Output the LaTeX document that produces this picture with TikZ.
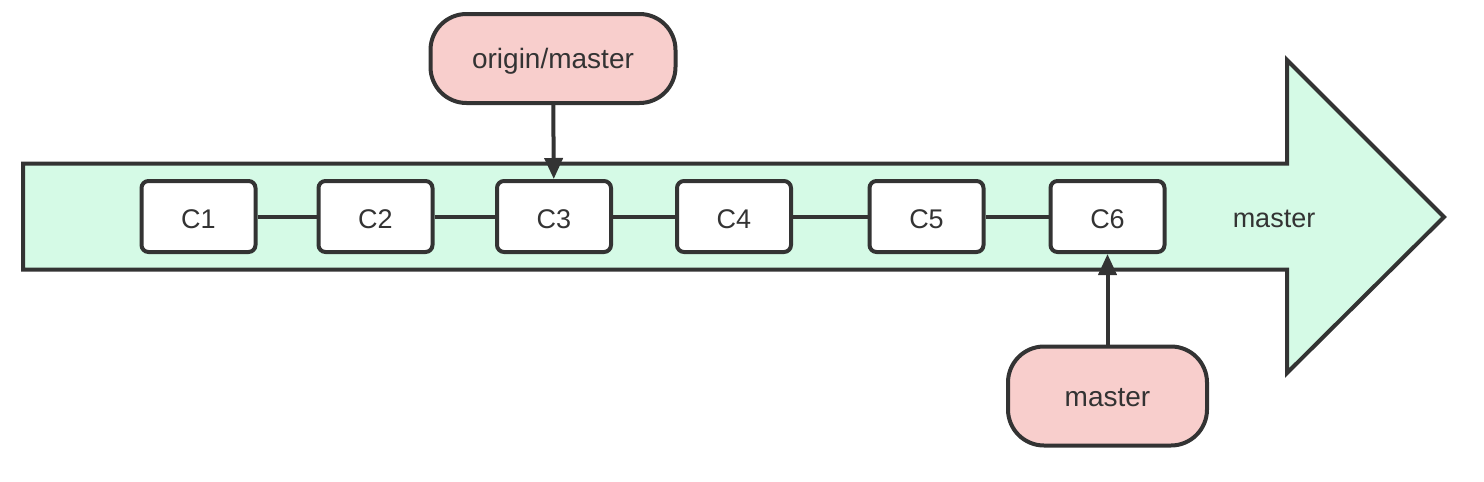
\documentclass[tikz,border=0pt]{standalone}
\usepackage{fontspec}
\setmainfont{Liberation Sans}
\usetikzlibrary{arrows.meta}
\definecolor{strokec}{HTML}{333333}
\definecolor{greenf}{HTML}{D5FAE6}
\definecolor{pinkf}{HTML}{F8CECC}
\tikzset{
  txt/.style={text=strokec, font=\fontsize{27}{32}\selectfont, text height=19.3pt, text depth=0pt},
  commit/.style={draw=strokec, line width=4pt, fill=white, rounded corners=7pt,
    minimum width=114pt, minimum height=71pt, inner sep=0pt, txt, text height=23.3pt},
  refbox/.style={draw=strokec, line width=4pt, fill=pinkf, rounded corners=36pt,
    inner sep=0pt, txt, font=\fontsize{28}{33}\selectfont, text height=20pt},
  link/.style={draw=strokec, line width=4pt},
  pointer/.style={draw=strokec, line width=4pt, -{Triangle[length=21pt,width=18pt]}},
}
\begin{document}
\begin{tikzpicture}[x=1pt,y=-1pt]
\useasboundingbox (0,0) rectangle (1484,482);
\draw[draw=strokec, fill=greenf, line width=4pt, line join=miter]
  (23,163.5) -- (1287,163.5) -- (1287,60) -- (1444,217) -- (1287,373) -- (1287,269.5) -- (23,269.5) -- cycle;
\node[commit] (c1) at (198.5,216.5) {C1};
\node[commit] (c2) at (375.5,216.5) {C2};
\node[commit] (c3) at (554,216.5) {C3};
\node[commit] (c4) at (734,216.5) {C4};
\node[commit] (c5) at (926.5,216.5) {C5};
\node[commit] (c6) at (1107.5,216.5) {C6};
\draw[link] (c1) -- (c2);
\draw[link] (c2) -- (c3);
\draw[link] (c3) -- (c4);
\draw[link] (c4) -- (c5);
\draw[link] (c5) -- (c6);
\node[txt] (lbl) at (1274,217.5) {master};
\node[refbox, minimum width=245pt, minimum height=89pt] (om) at (553,58.5) {origin/master};
\node[refbox, minimum width=199pt, minimum height=99pt] (m) at (1107.5,396) {master};
\draw[pointer] (om) -- (c3);
\draw[pointer] (m) -- (c6);
\end{tikzpicture}
\end{document}
